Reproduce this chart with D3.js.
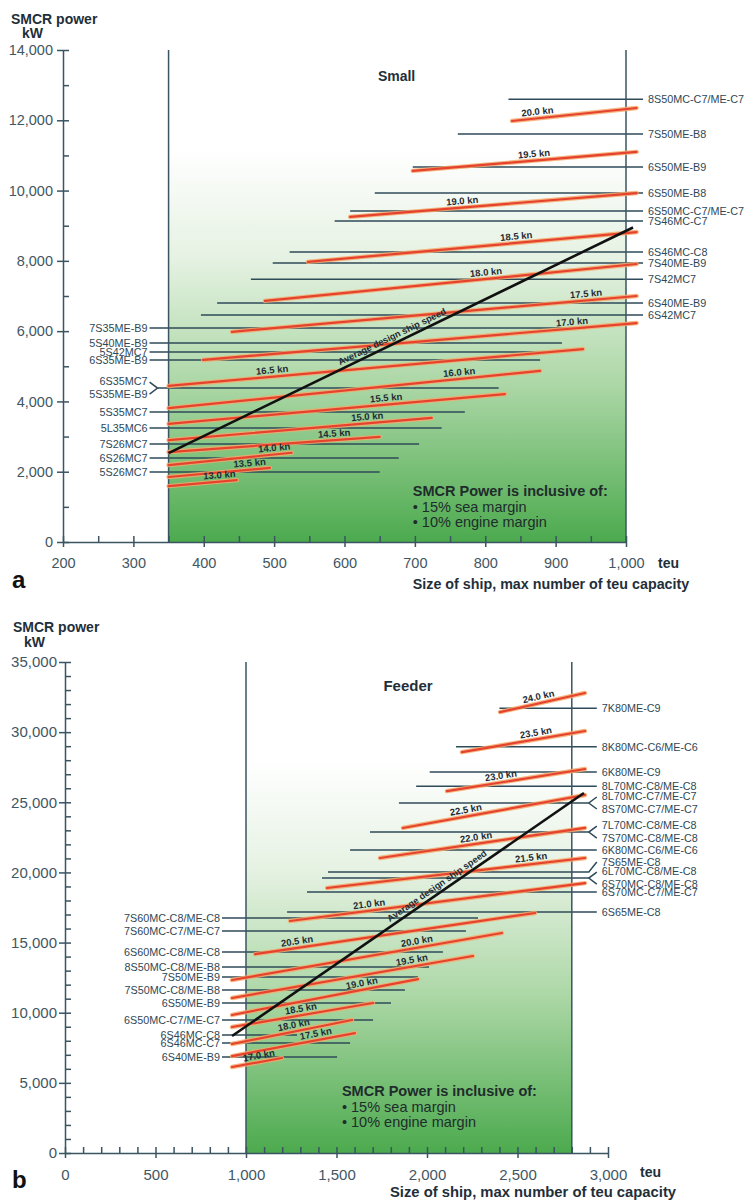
<!DOCTYPE html>
<html><head><meta charset="utf-8">
<script src="https://cdn.jsdelivr.net/npm/d3@7/dist/d3.min.js"></script>
<style>
body{margin:0;background:#fff;}
svg{display:block;font-family:"Liberation Sans",Arial,Helvetica,sans-serif;}
</style></head><body>
<svg id="chart" width="749" height="1201"></svg>
<script>
// ================= DATA : panel a (Small) =================
const smallXTicks = [200,300,400,500,600,700,800,900,1000];
const smallYTicks = [0,2000,4000,6000,8000,10000,12000,14000];
// engines labelled on the right: line runs from teu to the right edge
const smallRightEngines = [
  {names:["8S50MC-C7/ME-C7"], teu:833, kw:12600},
  {names:["7S50ME-B8"],       teu:761, kw:11610},
  {names:["6S50ME-B9"],       teu:697, kw:10670},
  {names:["6S50ME-B8"],       teu:643, kw:9930},
  {names:["6S50MC-C7/ME-C7"], teu:608, kw:9420},
  {names:["7S46MC-C7"],       teu:586, kw:9135},
  {names:["6S46MC-C8"],       teu:522, kw:8250},
  {names:["7S40ME-B9"],       teu:498, kw:7940},
  {names:["7S42MC7"],         teu:467, kw:7480},
  {names:["6S40ME-B9"],       teu:419, kw:6800},
  {names:["6S42MC7"],         teu:396, kw:6460}
];
// engines labelled on the left: line runs from the left edge to teu
const smallLeftEngines = [
  {names:["7S35ME-B9"],            teu:943, kw:6090},
  {names:["5S40ME-B9"],            teu:909, kw:5660},
  {names:["5S42MC7"],              teu:892, kw:5410},
  {names:["6S35ME-B9"],            teu:878, kw:5180},
  {names:["6S35MC7","5S35ME-B9"],  teu:819, kw:4380},
  {names:["5S35MC7"],              teu:771, kw:3700},
  {names:["5L35MC6"],              teu:738, kw:3245},
  {names:["7S26MC7"],              teu:706, kw:2790},
  {names:["6S26MC7"],              teu:677, kw:2390},
  {names:["5S26MC7"],              teu:650, kw:1990}
];
const smallSpeedKn   = ["13.0","13.5","14.0","14.5","15.0","15.5","16.0","16.5","17.0","17.5","18.0","18.5","19.0","19.5","20.0"];
const smallSpeedTeu1 = [350,350,350,350,350,350,350,350,399,440,487,548,608,697,838];
const smallSpeedKw1  = [1590,1850,2190,2560,2900,3360,3810,4440,5180,5980,6860,7970,9250,10560,11980];
const smallSpeedTeu2 = [447,494,525,650,724,828,878,939,1015,1015,1015,1015,1015,1015,1015];
const smallSpeedKw2  = [1760,2110,2540,2990,3530,4210,4870,5490,6230,7000,7910,8820,9930,11100,12350];
const smallSpeedLabelAt = [423,466,501,586,633,660,764,498,924,944,802,845,768,870,875];
const smallAvgTeu = [350,1010];
const smallAvgKw  = [2530,8950];

// ================= DATA : panel b (Feeder) =================
const feederXTicks = [0,500,1000,1500,2000,2500,3000];
const feederYTicks = [0,5000,10000,15000,20000,25000,30000,35000];
const feederRightEngines = [
  {names:["7K80ME-C9"],                           teu:2400, kw:31700},
  {names:["8K80MC-C6/ME-C6"],                     teu:2160, kw:28950},
  {names:["6K80ME-C9"],                           teu:2015, kw:27150},
  {names:["8L70MC-C8/ME-C8"],                     teu:1940, kw:26150},
  {names:["8L70MC-C7/ME-C7","8S70MC-C7/ME-C7"],   teu:1845, kw:24950},
  {names:["7L70MC-C8/ME-C8","7S70MC-C8/ME-C8"],   teu:1685, kw:22880},
  {names:["6K80MC-C6/ME-C6"],                     teu:1575, kw:21600},
  {names:["7S65ME-C8"],                           teu:1453, kw:20030},
  {names:["6L70MC-C8/ME-C8","6S70MC-C8/ME-C8"],   teu:1420, kw:19600},
  {names:["6S70MC-C7/ME-C7"],                     teu:1337, kw:18600},
  {names:["6S65ME-C8"],                           teu:1227, kw:17180}
];
const feederLeftEngines = [
  {names:["7S60MC-C8/ME-C8"], teu:2282, kw:16750},
  {names:["7S60MC-C7/ME-C7"], teu:2215, kw:15820},
  {names:["6S60MC-C8/ME-C8"], teu:2088, kw:14330},
  {names:["8S50MC-C8/ME-B8"], teu:2011, kw:13260},
  {names:["7S50ME-B9"],       teu:1950, kw:12550},
  {names:["7S50MC-C8/ME-B8"], teu:1878, kw:11620},
  {names:["6S50ME-B9"],       teu:1801, kw:10690},
  {names:["6S50MC-C7/ME-C7"], teu:1702, kw:9480},
  {names:["6S46MC-C8"],       teu:1282, kw:8410},
  {names:["6S46MC-C7"],       teu:1575, kw:7840},
  {names:["6S40ME-B9"],       teu:1503, kw:6840}
];
const feederSpeedKn   = ["17.0","17.5","18.0","18.5","19.0","19.5","20.0","20.5","21.0","21.5","22.0","22.5","23.0","23.5","24.0"];
const feederSpeedTeu1 = [923,923,923,923,923,923,923,1050,1243,1448,1740,1867,2110,2193,2403];
const feederSpeedKw1  = [6130,6910,7770,8980,9840,11050,12330,14180,16540,18890,21030,23170,25800,28580,31430];
const feederSpeedTeu2 = [1199,1602,1586,1702,1950,2254,2414,2597,2873,2873,2873,2873,2873,2873,2873];
const feederSpeedKw2  = [6770,8550,9480,10690,12400,14040,15680,17110,19240,21030,23170,25520,27370,30080,32790];
const feederSpeedLabelAt = [1077,1392,1271,1309,1646,1923,1950,1287,1685,2580,2276,2221,2414,2608,2624];
const feederAvgTeu = [923,2867];
const feederAvgKw  = [8340,25660];

// ================= DRAWING =================
const svg = d3.select("#chart");
const defs = svg.append("defs");
const AX = "#3a5462", LINE = "#2f4a58", TXT = "#2f4755", TICKTXT = "#435663";
const labelNudge = {"7S65ME-C8": -10};

function grad(id){
  const g = defs.append("linearGradient").attr("id",id).attr("x1",0).attr("y1",0).attr("x2",0).attr("y2",1);
  [[0,"#ffffff"],[0.2,"#ffffff"],[0.42,"#e6f2e3"],[0.68,"#acd7a6"],[1,"#4caa4e"]]
    .forEach(([o,c])=>g.append("stop").attr("offset",o).attr("stop-color",c));
}
grad("gA"); grad("gB");

function zipSpeeds(kn,t1,k1,t2,k2,lab){
  return kn.map((k,i)=>({kn:k,t1:t1[i],k1:k1[i],t2:t2[i],k2:k2[i],lab:lab[i]}));
}

const panels = [
 {grad:"gA", xDomain:[200,1000], xRange:[63,626], yDomain:[0,14000], yRange:[542,50],
  xTicks:smallXTicks, xMinor:d3.range(250,1000,50).filter(v=>v%100), yTicks:smallYTicks, yMinor:d3.range(1000,14000,2000),
  box:[350,1000], title:"Small", titleAt:[674,13250], titleSize:14,
  right:smallRightEngines, left:smallLeftEngines,
  speeds:zipSpeeds(smallSpeedKn,smallSpeedTeu1,smallSpeedKw1,smallSpeedTeu2,smallSpeedKw2,smallSpeedLabelAt),
  avgT:smallAvgTeu, avgK:smallAvgKw, avgLabelAt:672,
  noteAt:[697,1450], rLineOff:17, rTextOff:22, lLineOff:-19, lTextOff:-21,
  tickPadY:4, yLabelY:[24,38], letter:"a", letterY:588, teuY:568, sizeY:589, sizeX:551, sizeFont:14.3, tickFont:14.5},
 {grad:"gB", xDomain:[0,3000], xRange:[65,608], yDomain:[0,35000], yRange:[1153,662],
  xTicks:feederXTicks, xMinor:d3.range(100,3000,100).filter(v=>v%500), yTicks:feederYTicks, yMinor:d3.range(1000,35000,1000).filter(v=>v%5000),
  box:[1000,2800], title:"Feeder", titleAt:[1895,33290], titleSize:15,
  right:feederRightEngines, left:feederLeftEngines,
  speeds:zipSpeeds(feederSpeedKn,feederSpeedTeu1,feederSpeedKw1,feederSpeedTeu2,feederSpeedKw2,feederSpeedLabelAt),
  avgT:feederAvgTeu, avgK:feederAvgKw, avgLabelAt:2077,
  noteAt:[1530,4420], rLineOff:25, rTextOff:30, lLineOff:-24, lTextOff:-26,
  tickPadY:2, yLabelY:[632,647], letter:"b", letterY:1188, teuY:1177, sizeY:1197, sizeX:533, sizeFont:14.8, tickFont:15}
];

panels.forEach(p=>{
  const x = d3.scaleLinear().domain(p.xDomain).range(p.xRange);
  const y = d3.scaleLinear().domain(p.yDomain).range(p.yRange);
  const g = svg.append("g");
  const bx0 = x(p.box[0]), bx1 = x(p.box[1]);
  const yTop = y(p.yDomain[1]), y0 = y(0);

  // shaded region
  g.append("rect").attr("x",bx0).attr("y",yTop).attr("width",bx1-bx0).attr("height",y0-yTop)
    .attr("fill",`url(#${p.grad})`);

  // engine lines (right-labelled)
  const rEnd = bx1 + p.rLineOff, rText = bx1 + p.rTextOff;
  const eg = g.append("g").attr("stroke",LINE).attr("stroke-width",1.5).attr("fill","none");
  const tg = g.append("g").attr("fill",TXT).attr("font-size",10.8);
  p.right.forEach(e=>{
    const yy = y(e.kw);
    const nudge = labelNudge[e.names[0]] || 0;
    if(e.names.length===2){
      eg.append("line").attr("x1",x(e.teu)).attr("x2",rEnd-8).attr("y1",yy).attr("y2",yy);
      eg.append("path").attr("d",`M${rEnd},${yy-6}L${rEnd-8},${yy}L${rEnd},${yy+6}`);
      e.names.forEach((n,i)=>tg.append("text").attr("x",rText).attr("y",yy+(i?6.5:-6.5)).attr("dy","0.35em").text(n));
    } else if(nudge){
      eg.append("path").attr("d",`M${x(e.teu)},${yy}L${rEnd-8},${yy}L${rEnd},${yy+nudge}`);
      tg.append("text").attr("x",rText).attr("y",yy+nudge).attr("dy","0.35em").text(e.names[0]);
    } else {
      eg.append("line").attr("x1",x(e.teu)).attr("x2",rEnd).attr("y1",yy).attr("y2",yy);
      tg.append("text").attr("x",rText).attr("y",yy).attr("dy","0.35em").text(e.names[0]);
    }
  });
  // engine lines (left-labelled)
  const lStart = bx0 + p.lLineOff, lText = bx0 + p.lTextOff;
  p.left.forEach(e=>{
    const yy = y(e.kw);
    if(e.names.length===2){
      eg.append("line").attr("x1",lStart+8).attr("x2",x(e.teu)).attr("y1",yy).attr("y2",yy);
      eg.append("path").attr("d",`M${lStart},${yy-6}L${lStart+8},${yy}L${lStart},${yy+6}`);
      e.names.forEach((n,i)=>tg.append("text").attr("x",lText).attr("y",yy+(i?6.5:-6.5)).attr("dy","0.35em").attr("text-anchor","end").text(n));
    } else {
      eg.append("line").attr("x1",lStart).attr("x2",x(e.teu)).attr("y1",yy).attr("y2",yy);
      tg.append("text").attr("x",lText).attr("y",yy).attr("dy","0.35em").attr("text-anchor","end").text(e.names[0]);
    }
  });

  // vertical box borders
  [bx0,bx1].forEach(v=>g.append("line").attr("x1",v).attr("x2",v).attr("y1",yTop).attr("y2",y0)
     .attr("stroke",AX).attr("stroke-width",1.5));

  // speed lines
  const sg = g.append("g");
  p.speeds.forEach(s=>{
    const x1=x(s.t1), y1=y(s.k1), x2=x(s.t2), y2=y(s.k2);
    sg.append("line").attr("x1",x1).attr("y1",y1).attr("x2",x2).attr("y2",y2)
      .attr("stroke","#f6a96a").attr("stroke-width",4.4).attr("stroke-linecap","round").attr("opacity",0.85);
    sg.append("line").attr("x1",x1).attr("y1",y1).attr("x2",x2).attr("y2",y2)
      .attr("stroke","#e5432f").attr("stroke-width",2.2).attr("stroke-linecap","round");
  });
  // speed labels
  p.speeds.forEach(s=>{
    const x1=x(s.t1), y1=y(s.k1), x2=x(s.t2), y2=y(s.k2);
    const lx = x(s.lab);
    const t = (lx-x1)/(x2-x1);
    const ly = y1 + t*(y2-y1);
    const ang = Math.atan2(y2-y1,x2-x1)*180/Math.PI;
    sg.append("text").attr("transform",`translate(${lx},${ly}) rotate(${ang})`)
      .attr("y",-3.5).attr("text-anchor","middle").attr("font-size",9.5).attr("font-weight","bold")
      .attr("fill","#1e2b34").text(s.kn+" kn");
  });

  // average design ship speed
  const ax1=x(p.avgT[0]), ay1=y(p.avgK[0]), ax2=x(p.avgT[1]), ay2=y(p.avgK[1]);
  g.append("line").attr("x1",ax1).attr("y1",ay1).attr("x2",ax2).attr("y2",ay2)
    .attr("stroke","#111").attr("stroke-width",2.6);
  const alx = x(p.avgLabelAt), at=(alx-ax1)/(ax2-ax1), aly = ay1+at*(ay2-ay1);
  const aang = Math.atan2(ay2-ay1,ax2-ax1)*180/Math.PI;
  g.append("text").attr("transform",`translate(${alx},${aly}) rotate(${aang})`)
    .attr("y",-4).attr("text-anchor","middle").attr("font-size",9.2).attr("font-weight","bold")
    .attr("fill","#1e2b34").text("Average design ship speed");

  // title
  g.append("text").attr("x",x(p.titleAt[0])).attr("y",y(p.titleAt[1])).attr("dy","0.35em")
    .attr("text-anchor","middle").attr("font-weight","bold").attr("font-size",p.titleSize)
    .attr("fill","#1f2f3a").text(p.title);

  // note
  const nx = x(p.noteAt[0]), ny = y(p.noteAt[1]);
  const note = g.append("text").attr("x",nx).attr("y",ny).attr("font-size",14.5).attr("fill","#1f2c2c");
  note.append("tspan").attr("x",nx).attr("dy","0.35em").attr("font-weight","bold").text("SMCR Power is inclusive of:");
  note.append("tspan").attr("x",nx).attr("dy",15.5).text("• 15% sea margin");
  note.append("tspan").attr("x",nx).attr("dy",15.5).text("• 10% engine margin");

  // axes
  const yAx = g.append("g").attr("transform",`translate(${p.xRange[0]},0)`)
    .call(d3.axisLeft(y).tickValues(p.yTicks).tickFormat(d3.format(",")).tickSize(6).tickSizeOuter(0).tickPadding(p.tickPadY));
  yAx.selectAll(".tick line").attr("x2",-6).attr("x1",6);
  const yMin = g.append("g").attr("transform",`translate(${p.xRange[0]},0)`)
    .call(d3.axisRight(y).tickValues(p.yMinor).tickFormat("").tickSize(6).tickSizeOuter(0));
  yMin.select(".domain").remove();
  const xAx = g.append("g").attr("transform",`translate(0,${y0})`)
    .call(d3.axisBottom(x).tickValues(p.xTicks).tickFormat(d3.format(",")).tickSize(5).tickSizeOuter(0).tickPadding(11));
  xAx.selectAll(".tick line").attr("y1",-6).attr("y2",5);
  const xMin = g.append("g").attr("transform",`translate(0,${y0})`)
    .call(d3.axisTop(x).tickValues(p.xMinor).tickFormat("").tickSize(6).tickSizeOuter(0));
  xMin.select(".domain").remove();
  [yAx,yMin,xAx,xMin].forEach(a=>{
    a.selectAll("line").attr("stroke",AX).attr("stroke-width",1.5);
    a.selectAll(".domain").attr("stroke",AX).attr("stroke-width",1.5);
    a.selectAll("text").attr("fill",TICKTXT).attr("font-size",p.tickFont).attr("font-family","'Liberation Sans',Arial,sans-serif");
  });

  // axis titles
  g.append("text").attr("x",p.xRange[0]-52).attr("y",p.yLabelY[0]).attr("font-weight","bold").attr("font-size",14)
    .attr("fill","#1f2f3a").text("SMCR power");
  g.append("text").attr("x",p.xRange[0]-41).attr("y",p.yLabelY[1]).attr("font-weight","bold").attr("font-size",14)
    .attr("fill","#1f2f3a").text("kW");
  g.append("text").attr("x",p.xRange[1]+32).attr("y",p.teuY).attr("font-weight","bold").attr("font-size",14)
    .attr("fill","#1f2f3a").text("teu");
  g.append("text").attr("x",p.sizeX).attr("y",p.sizeY).attr("text-anchor","middle").attr("font-weight","bold").attr("font-size",p.sizeFont)
    .attr("fill","#1f2f3a").text("Size of ship, max number of teu capacity");
  g.append("text").attr("x",12).attr("y",p.letterY).attr("font-weight","bold").attr("font-size",24)
    .attr("fill","#111").text(p.letter);
});
</script>
</body></html>
